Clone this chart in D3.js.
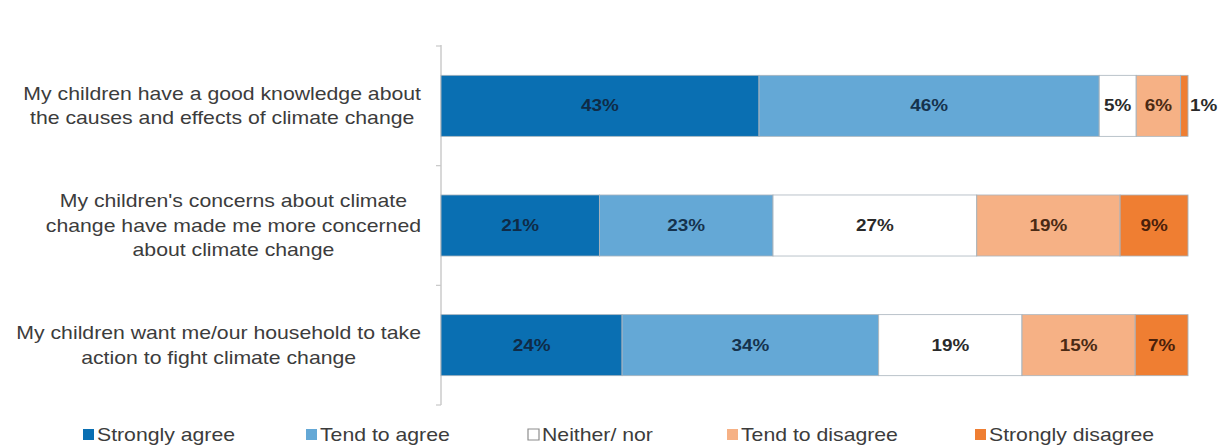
<!DOCTYPE html>
<html>
<head>
<meta charset="utf-8">
<script src="https://cdn.jsdelivr.net/npm/d3@7.9.0/dist/d3.min.js"></script>
<style>
  html, body { margin: 0; padding: 0; background: #fff; }
  svg { display: block; }
</style>
</head>
<body>
<svg id="chart" width="1220" height="447"></svg>
<script>
const categories = [
    "My children have a good knowledge about|the causes and effects of climate change",
    "My children's concerns about climate|change have made me more concerned|about climate change",
    "My children want me/our household to take|action to fight climate change"
];
const responses = ["Strongly agree", "Tend to agree", "Neither/ nor", "Tend to disagree", "Strongly disagree"];
const stronglyAgree = [43, 21, 24];
const tendToAgree = [46, 23, 34];
const neitherNor = [5, 27, 19];
const tendToDisagree = [6, 19, 15];
const stronglyDisagree = [1, 9, 7];

const colors = ["#0a6fb2", "#64a8d6", "#ffffff", "#f6b185", "#ef7e32"];
const textColors = ["#0f2b47", "#15324d", "#2a2a2a", "#4a2a14", "#4a200a"];

function drawChart() {
    // the source image is stretched horizontally, so everything lives in a scaled group
    const SX = 1.18;
    const svg = d3.select("#chart");
    const g = svg.append("g").attr("transform", `scale(${SX},1)`);

    const rows = categories.map((c, i) => ({
        cat: c,
        "Strongly agree": stronglyAgree[i],
        "Tend to agree": tendToAgree[i],
        "Neither/ nor": neitherNor[i],
        "Tend to disagree": tendToDisagree[i],
        "Strongly disagree": stronglyDisagree[i]
    }));

    const stack = d3.stack().keys(responses).offset(d3.stackOffsetExpand);
    const series = stack(rows);

    const xScale = d3.scaleLinear().domain([0, 1]).range([441 / SX, 1188 / SX]);
    const yScale = d3.scaleBand()
        .domain(categories)
        .range([46, 405])
        .paddingInner(0.49)
        .paddingOuter(0.245);

    // axis line + ticks at band boundaries
    const axisX = xScale(0);
    g.append("line")
        .attr("x1", axisX).attr("x2", axisX)
        .attr("y1", 45).attr("y2", 405)
        .attr("stroke", "#c8c8c8")
        .attr("stroke-width", 1.2);

    const step = yScale.step();
    const bounds = categories.map(c => yScale(c) - step * yScale.paddingInner() / 2);
    bounds.push(bounds[bounds.length - 1] + step);
    g.selectAll(".tick")
        .data(bounds)
        .join("line")
        .attr("x1", axisX - 5 / SX).attr("x2", axisX)
        .attr("y1", d => d).attr("y2", d => d)
        .attr("stroke", "#c8c8c8")
        .attr("stroke-width", 1.2);

    // bars
    const layers = g.selectAll(".layer")
        .data(series)
        .join("g")
        .attr("fill", (d, i) => colors[i]);

    layers.selectAll("rect")
        .data(d => d)
        .join("rect")
        .attr("x", d => xScale(d[0]))
        .attr("y", d => yScale(d.data.cat))
        .attr("width", d => xScale(d[1]) - xScale(d[0]))
        .attr("height", yScale.bandwidth())
        .attr("stroke", "#a9b4bd")
        .attr("stroke-width", 0.8);

    // value labels
    series.forEach((s, si) => {
        s.forEach(d => {
            const x0 = xScale(d[0]), x1 = xScale(d[1]);
            const v = d.data[s.key];
            const small = (x1 - x0) < 12;
            g.append("text")
                .attr("x", small ? x1 + 2 / SX : (x0 + x1) / 2)
                .attr("y", yScale(d.data.cat) + yScale.bandwidth() / 2)
                .attr("dy", "0.35em")
                .attr("text-anchor", small ? "start" : "middle")
                .style("font-family", "'Liberation Sans', Arial, sans-serif")
                .style("font-size", "16px")
                .style("font-weight", "bold")
                .attr("fill", small ? "#2a2a2a" : textColors[si])
                .text(v + "%");
        });
    });

    // category labels: block right aligned, lines centered inside the block
    const rightEdge = 421 / SX;
    const lineH = 24.5;
    categories.forEach(c => {
        const lines = c.split("|");
        const cy = yScale(c) + yScale.bandwidth() / 2;
        const lbl = g.append("g");
        const texts = lines.map((line, li) => lbl.append("text")
            .attr("y", cy + (li - (lines.length - 1) / 2) * lineH)
            .attr("dy", "0.35em")
            .attr("text-anchor", "middle")
            .style("font-family", "'Liberation Sans', Arial, sans-serif")
            .style("font-size", "18px")
            .attr("fill", "#3c3c3c")
            .text(line));
        const maxW = d3.max(texts, t => t.node().getComputedTextLength());
        texts.forEach(t => t.attr("x", rightEdge - maxW / 2));
    });

    // legend
    const legendX = [83, 306, 528, 727, 975];
    const legend = g.append("g");
    responses.forEach((r, i) => {
        const lx = legendX[i] / SX;
        legend.append("rect")
            .attr("x", lx)
            .attr("y", 429)
            .attr("width", 11 / SX)
            .attr("height", 11)
            .attr("fill", colors[i])
            .attr("stroke", i === 2 ? "#8c8c8c" : "none")
            .attr("stroke-width", 1);
        legend.append("text")
            .attr("x", lx + 14 / SX)
            .attr("y", 435)
            .attr("dy", "0.35em")
            .style("font-family", "'Liberation Sans', Arial, sans-serif")
            .style("font-size", "18px")
            .attr("fill", "#3c3c3c")
            .text(r);
    });
}

drawChart();
</script>
</body>
</html>
